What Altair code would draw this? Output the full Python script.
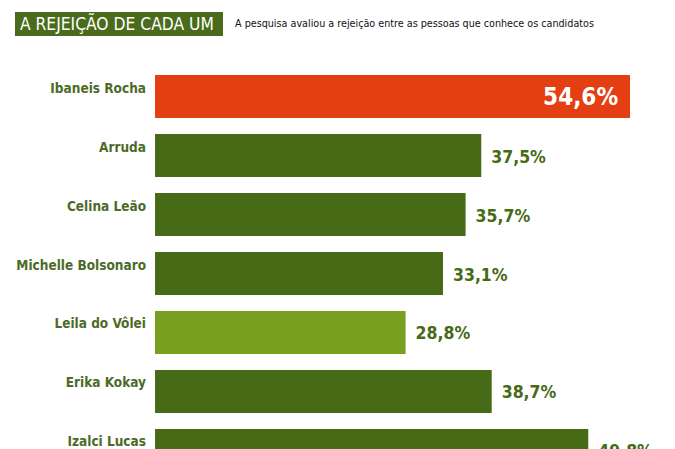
import altair as alt
import pandas as pd

names = ["Ibaneis Rocha", "Arruda", "Celina Leão", "Michelle Bolsonaro",
         "Leila do Vôlei", "Erika Kokay", "Izalci Lucas"]
values = [54.6, 37.5, 35.7, 33.1, 28.8, 38.7, 49.8]
colors = ["#e43f12", "#476a17", "#476a17", "#476a17", "#7a9e1f", "#476a17", "#476a17"]
title_text = "A REJEIÇÃO DE CADA UM"
subtitle_text = "A pesquisa avaliou a rejeição entre as pessoas que conhece os candidatos"

vmax = max(values)
df = pd.DataFrame({
    "name": names,
    "value": values,
    "zero": [0.0] * len(values),
    "color": colors,
    "label": [f"{v:.1f}".replace(".", ",") + "%" for v in values],
    "inside": [v == vmax for v in values],
})

FONT = "DejaVu Sans Condensed, Roboto, sans-serif"
GREEN = "#476a17"

xs = alt.Scale(domain=[-17.82, 59.77], nice=False, zero=False)
x = alt.X("value:Q", scale=xs, axis=None)
y = alt.Y("name:N", sort=names, axis=None,
          scale=alt.Scale(range=[75, 472], paddingInner=0.271, paddingOuter=0))

base = alt.Chart(df)

bars = base.mark_bar().encode(
    x=x, x2="zero:Q", y=y,
    color=alt.Color("color:N", scale=None),
)

name_text = base.mark_text(
    align="right", baseline="middle", font=FONT, fontSize=13.5, fontWeight="bold",
    color="#4d6b28", dy=-8,
).encode(x=alt.value(146), y=y, text="name:N")

out_labels = base.transform_filter("!datum.inside").mark_text(
    align="left", baseline="middle", font=FONT, fontSize=17.5, fontWeight="bold",
    color=GREEN, dx=10, dy=2,
).encode(x=x, y=y, text="label:N")

in_labels = base.transform_filter("datum.inside").mark_text(
    align="right", baseline="middle", font=FONT, fontSize=24, fontWeight="bold",
    color="white", dx=-12, dy=1,
).encode(x=x, y=y, text="label:N")

hdr = pd.DataFrame({"t": [title_text], "s": [subtitle_text]})
title_box = alt.Chart(hdr).mark_rect(color="#4a6b1c").encode(
    x=alt.value(15), x2=alt.value(223), y=alt.value(12), y2=alt.value(36)
)
title_t = alt.Chart(hdr).mark_text(
    align="left", baseline="middle", font=FONT, fontSize=17.3, color="white",
).encode(x=alt.value(20), y=alt.value(24.5), text="t:N")
sub_t = alt.Chart(hdr).mark_text(
    align="left", baseline="middle", font=FONT, fontSize=10.7, color="#111111",
).encode(x=alt.value(235), y=alt.value(24), text="s:N")

chart = alt.layer(bars, name_text, out_labels, in_labels, title_box, title_t, sub_t).properties(
    width=675, height=449,
    autosize=alt.AutoSizeParams(type="none"),
    padding=0,
    background="white",
).configure_view(stroke="transparent", fill="white")

chart.save("out.html", embed_options={"renderer": "svg", "actions": False})
